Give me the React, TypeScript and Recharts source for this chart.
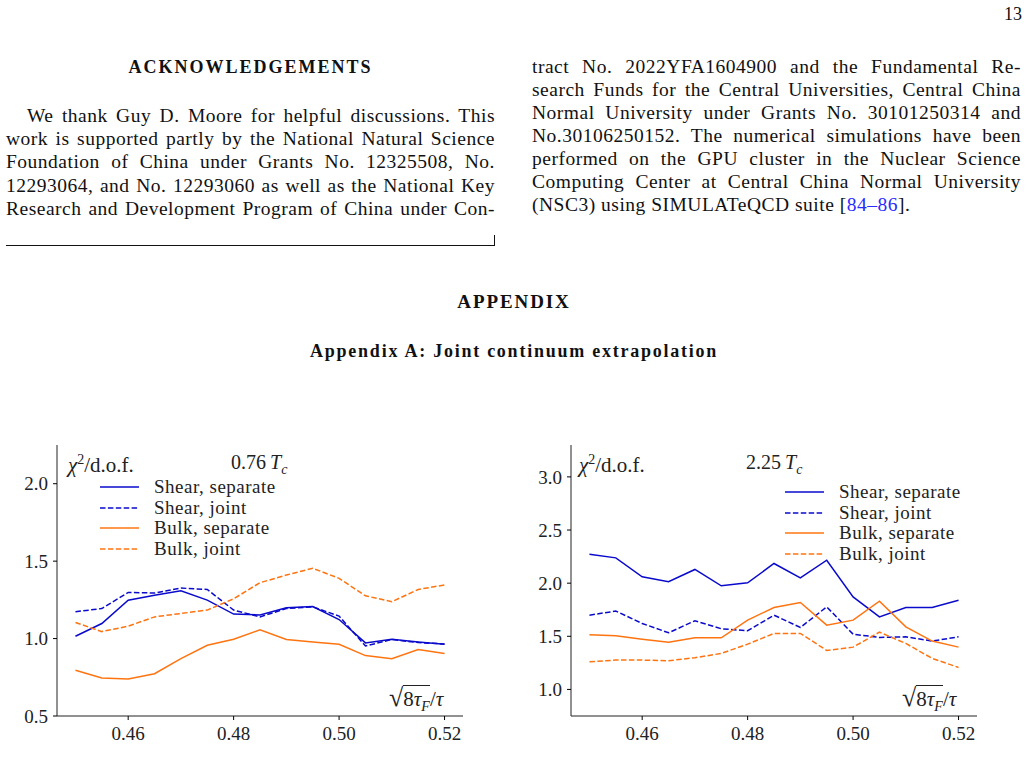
import { LineChart, Line, XAxis, YAxis, Legend } from 'recharts'

const serif = '"Liberation Serif", "Times New Roman", serif'
const blue = '#0a0acc'
const orange = '#ff7410'
const frame = '#222'

// x positions, sqrt(8 tau_F)/tau
const tauF = [0.45, 0.455, 0.46, 0.465, 0.47, 0.475, 0.48, 0.485, 0.49, 0.495, 0.5, 0.505, 0.51, 0.515, 0.52]

// 0.76 Tc
const shearSepLow = [1.015, 1.097, 1.248, 1.28, 1.309, 1.248, 1.158, 1.153, 1.199, 1.207, 1.123, 0.972, 0.996, 0.978, 0.963]
const shearJointLow = [1.173, 1.194, 1.298, 1.294, 1.326, 1.317, 1.184, 1.14, 1.194, 1.205, 1.145, 0.952, 0.994, 0.974, 0.965]
const bulkSepLow = [0.795, 0.745, 0.739, 0.773, 0.87, 0.957, 0.996, 1.056, 0.994, 0.978, 0.963, 0.89, 0.87, 0.929, 0.903]
const bulkJointLow = [1.104, 1.045, 1.08, 1.14, 1.162, 1.184, 1.257, 1.361, 1.41, 1.454, 1.389, 1.276, 1.238, 1.317, 1.346]

// 2.25 Tc
const shearSepHigh = [2.273, 2.238, 2.06, 2.013, 2.129, 1.975, 2.003, 2.185, 2.05, 2.216, 1.871, 1.683, 1.771, 1.771, 1.84]
const shearJointHigh = [1.699, 1.737, 1.621, 1.533, 1.646, 1.571, 1.552, 1.699, 1.583, 1.777, 1.52, 1.489, 1.495, 1.455, 1.495]
const bulkSepHigh = [1.514, 1.505, 1.473, 1.445, 1.486, 1.486, 1.652, 1.771, 1.818, 1.605, 1.652, 1.831, 1.589, 1.455, 1.398]
const bulkJointHigh = [1.26, 1.276, 1.276, 1.27, 1.298, 1.339, 1.426, 1.527, 1.527, 1.367, 1.398, 1.539, 1.433, 1.292, 1.207]

const xTicks = [0.46, 0.48, 0.5, 0.52]
const yTicksLow = [0.5, 1.0, 1.5, 2.0]
const yTicksHigh = [1.0, 1.5, 2.0, 2.5, 3.0]

const series = [
  { key: 'shearSep', name: 'Shear, separate', color: blue, dash: undefined },
  { key: 'shearJoint', name: 'Shear, joint', color: blue, dash: '5.5 2.4' },
  { key: 'bulkSep', name: 'Bulk, separate', color: orange, dash: undefined },
  { key: 'bulkJoint', name: 'Bulk, joint', color: orange, dash: '5.5 2.4' },
]

function buildRows(a: number[], b: number[], c: number[], d: number[]) {
  return tauF.map((x, i) => ({ x, shearSep: a[i], shearJoint: b[i], bulkSep: c[i], bulkJoint: d[i] }))
}

function LegendBox({ payload }: any) {
  return (
    <div style={{ fontFamily: serif, fontSize: 19, letterSpacing: 0.5, color: '#222' }}>
      {series.map((s) => {
        const entry = (payload || []).find((p: any) => p.dataKey === s.key)
        return (
          <div key={s.key} style={{ height: 20.5, display: 'flex', alignItems: 'center' }}>
            <svg width={39} height={20}>
              <line x1={0} x2={39} y1={10} y2={10} stroke={entry?.color ?? s.color}
                strokeWidth={1.5} strokeDasharray={s.dash} />
            </svg>
            <span style={{ marginLeft: 15, lineHeight: '20px', whiteSpace: 'nowrap' }}>{s.name}</span>
          </div>
        )
      })}
    </div>
  )
}

interface PanelProps {
  left: number
  width: number
  yWidth: number
  marginRight: number
  rows: any[]
  yDomain: [number, number]
  yTicks: number[]
  temp: string
  legendLeft: number
  legendTop: number
  chiLeft: number
  tempLeft: number
  sqrtLeft: number
}

function Panel(p: PanelProps) {
  const tick = { fontFamily: serif, fontSize: 19, fill: '#222' }
  return (
    <div style={{ position: 'absolute', left: p.left, top: 440, width: p.width, height: 338 }}>
      <LineChart width={p.width} height={338} data={p.rows}
        margin={{ top: 5, right: p.marginRight, bottom: 22, left: 0 }}>
        <XAxis dataKey="x" type="number" domain={[0.4465, 0.5235]} ticks={xTicks} allowDataOverflow
          tickFormatter={(v: number) => v.toFixed(2)} tick={tick} height={40}
          tickSize={4} tickMargin={7} stroke={frame} tickLine={{ stroke: '#000' }} />
        <XAxis xAxisId="top" orientation="top" dataKey="x" type="number" domain={[0.4465, 0.5235]}
          height={0} tick={false} tickLine={false} stroke={frame} />
        <YAxis type="number" domain={p.yDomain} ticks={p.yTicks} allowDataOverflow
          tickFormatter={(v: number) => v.toFixed(1)} tick={tick} width={p.yWidth}
          tickSize={4} tickMargin={5} stroke={frame} tickLine={{ stroke: '#000' }} />
        <YAxis yAxisId="right" orientation="right" type="number" domain={p.yDomain}
          width={0} tick={false} tickLine={false} stroke={frame} />
        {series.map((s) => (
          <Line key={s.key} type="linear" dataKey={s.key} name={s.name} stroke={s.color}
            strokeWidth={1.5} strokeDasharray={s.dash} dot={false} activeDot={false}
            isAnimationActive={false} />
        ))}
        <Legend layout="vertical" align="center" verticalAlign="middle" content={<LegendBox />}
          wrapperStyle={{ left: p.legendLeft, top: p.legendTop, width: 220, height: 84 }} />
      </LineChart>
      <div style={{ position: 'absolute', left: p.chiLeft, top: 8, fontFamily: serif, fontSize: 21, color: '#222', lineHeight: '24px', whiteSpace: 'nowrap' }}>
        <i>χ</i><sup style={{ fontSize: 14 }}>2</sup>/d.o.f.
      </div>
      <div style={{ position: 'absolute', left: p.tempLeft, top: 10, fontFamily: serif, fontSize: 20, color: '#222', lineHeight: '24px', whiteSpace: 'nowrap' }}>
        {p.temp}<span style={{ marginLeft: 4 }}><i>T</i><sub style={{ fontSize: 14 }}><i>c</i></sub></span>
      </div>
      <div style={{ position: 'absolute', left: p.sqrtLeft, top: 245, fontFamily: serif, fontSize: 21, color: '#222', lineHeight: '26px', whiteSpace: 'nowrap' }}>
        <span style={{ fontSize: 26 }}>√</span>
        <span style={{ borderTop: '1px solid #222', paddingTop: 1 }}>8<i>τ</i><sub style={{ fontSize: 14 }}><i>F</i></sub></span>
        /<i>τ</i>
      </div>
    </div>
  )
}

function Row({ x, y, w, text, justify = true }: { x: number; y: number; w: number; text: any; justify?: boolean }) {
  return (
    <div style={{
      position: 'absolute', left: x, top: y - 12, width: w, lineHeight: '24px', fontSize: 19.5,
      letterSpacing: 0.5, fontFamily: serif, color: '#111', textAlign: 'justify',
      textAlignLast: justify ? 'justify' : 'left',
    }}>{text}</div>
  )
}

const leftCol = [
  'work is supported partly by the National Natural Science',
  'Foundation of China under Grants No.  12325508, No.',
  '12293064, and No. 12293060 as well as the National Key',
  'Research and Development Program of China under Con-',
]
const rightCol = [
  'tract No.  2022YFA1604900 and the Fundamental Re-',
  'search Funds for the Central Universities, Central China',
  'Normal University under Grants No.  30101250314 and',
  'No.30106250152.  The numerical simulations have been',
  'performed on the GPU cluster in the Nuclear Science',
  'Computing Center at Central China Normal University',
]

export default function App() {
  return (
    <div style={{ position: 'absolute', left: 0, top: 0, width: 1028, height: 778, background: '#fff', overflow: 'hidden' }}>
      <div style={{ position: 'absolute', left: 1000, top: 3, width: 22, textAlign: 'right', fontFamily: serif, fontSize: 18, lineHeight: '22px', color: '#111' }}>13</div>
      <div style={{ position: 'absolute', left: 6, top: 56, width: 489, textAlign: 'center', fontFamily: serif, fontSize: 18, fontWeight: 'bold', letterSpacing: 2, lineHeight: '22px', color: '#111' }}>ACKNOWLEDGEMENTS</div>
      <Row x={27} y={116} w={468} text="We thank Guy D. Moore for helpful discussions. This" />
      {leftCol.map((t, i) => <Row key={t} x={6} y={139 + i * 23.3} w={489} text={t} />)}
      {rightCol.map((t, i) => <Row key={t} x={532} y={67 + i * 23} w={489} text={t} />)}
      <Row x={532} y={205} w={489} justify={false}
        text={<>(NSC3) using SIMULATeQCD suite [<span style={{ color: '#2a2aff' }}>84–86</span>].</>} />
      <div style={{ position: 'absolute', left: 6, top: 245, width: 489, height: 1, background: '#111' }} />
      <div style={{ position: 'absolute', left: 494, top: 235, width: 1, height: 11, background: '#111' }} />
      <div style={{ position: 'absolute', left: 0, top: 291, width: 1028, textAlign: 'center', fontFamily: serif, fontSize: 19, fontWeight: 'bold', letterSpacing: 1.9, lineHeight: '22px', color: '#111' }}>APPENDIX</div>
      <div style={{ position: 'absolute', left: 0, top: 340, width: 1028, textAlign: 'center', fontFamily: serif, fontSize: 18, fontWeight: 'bold', letterSpacing: 1.75, lineHeight: '22px', color: '#111' }}>Appendix A: Joint continuum extrapolation</div>
      <Panel left={0} width={480} yWidth={57} marginRight={17}
        rows={buildRows(shearSepLow, shearJointLow, bulkSepLow, bulkJointLow)}
        yDomain={[0.5, 2.25]} yTicks={yTicksLow} temp="0.76"
        legendLeft={100} legendTop={37} chiLeft={68} tempLeft={231} sqrtLeft={389} />
      <Panel left={520} width={470} yWidth={51} marginRight={13}
        rows={buildRows(shearSepHigh, shearJointHigh, bulkSepHigh, bulkJointHigh)}
        yDomain={[0.75, 3.3]} yTicks={yTicksHigh} temp="2.25"
        legendLeft={265} legendTop={42} chiLeft={59} tempLeft={226} sqrtLeft={382} />
    </div>
  )
}
